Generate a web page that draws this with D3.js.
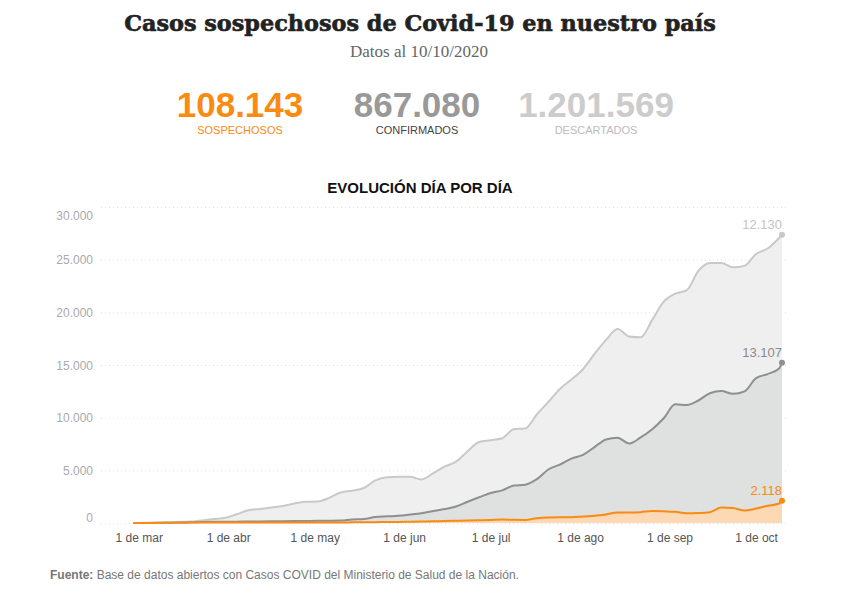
<!DOCTYPE html>
<html>
<head>
<meta charset="utf-8">
<script src="https://cdn.jsdelivr.net/npm/d3@7"></script>
<style>
  body { margin: 0; background: #fff; }
  svg { display: block; font-family: "Liberation Sans", Arial, sans-serif; }
</style>
</head>
<body>
<svg id="chart" width="843" height="589"></svg>
<script>
// valores (promedio diario por fecha)
const dates = ["2020-02-28","2020-03-03","2020-03-07","2020-03-11","2020-03-15","2020-03-19","2020-03-23","2020-03-27","2020-03-31",
  "2020-04-04","2020-04-08","2020-04-12","2020-04-16","2020-04-20","2020-04-24","2020-04-28",
  "2020-05-02","2020-05-06","2020-05-10","2020-05-14","2020-05-18","2020-05-22","2020-05-26","2020-05-30",
  "2020-06-03","2020-06-07","2020-06-11","2020-06-15","2020-06-19","2020-06-23","2020-06-27",
  "2020-07-01","2020-07-05","2020-07-09","2020-07-13","2020-07-17","2020-07-21","2020-07-25","2020-07-29",
  "2020-08-02","2020-08-06","2020-08-10","2020-08-14","2020-08-18","2020-08-22","2020-08-26","2020-08-30",
  "2020-09-03","2020-09-07","2020-09-11","2020-09-15","2020-09-19","2020-09-23","2020-09-27",
  "2020-10-01","2020-10-05","2020-10-09","2020-10-10"];

const sospechosos = [0,5,10,20,30,40,40,40,40,
  40,40,40,40,40,40,40,
  50,50,50,60,70,80,100,100,
  120,140,160,190,210,230,260,
  290,330,300,290,450,520,540,540,
  620,680,810,1000,990,1030,1140,1110,
  1060,930,950,1030,1460,1420,1190,
  1370,1630,1850,2118];

const confirmados = [0,2,5,10,10,30,60,70,80,
  90,100,110,120,130,140,150,
  160,170,190,280,310,480,530,590,
  680,790,980,1130,1350,1790,2190,
  2560,2770,3250,3350,3710,4560,5000,5570,
  5840,6530,7120,7090,6560,7090,7760,8830,
  10210,10270,10680,11290,11070,10840,11300,
  12380,12510,12820,13107];

const descartados = [0,10,20,40,60,70,140,260,380,
  700,1070,1180,1310,1440,1680,1820,
  1830,2160,2660,2720,2940,3480,3720,3700,
  3590,3210,3560,4030,4260,4790,5240,
  5000,4950,5350,5340,6160,6410,7180,7520,
  8140,8840,9450,10330,10160,9510,10380,11080,
  10500,10900,12300,12370,12150,12010,11920,
  11790,11920,12390,12130];

const seriesKeys = ["sospechosos", "confirmados", "descartados"];
const totals = [108143, 867080, 1201569];
const totalLabels = ["SOSPECHOSOS", "CONFIRMADOS", "DESCARTADOS"];
const yTicks = [0, 5000, 10000, 15000, 20000, 25000, 30000];
const monthStarts = ["2020-03-01","2020-04-01","2020-05-01","2020-06-01","2020-07-01","2020-08-01","2020-09-01","2020-10-01"];

const lineColor = { sospechosos: "#f98a12", confirmados: "#8f8f8f", descartados: "#c9c9c9" };
const fillColor = { sospechosos: "#fdd8b4", confirmados: "#dfe0e0", descartados: "#efefef" };
const labelColor = { sospechosos: "#f98a12", confirmados: "#8a8a8a", descartados: "#c4c4c4" };

const es = d3.formatLocale({ decimal: ",", thousands: ".", grouping: [3], currency: ["$", ""] });
const fmt = es.format(",d");
const esTime = d3.timeFormatLocale({
  dateTime: "%x, %X", date: "%d/%m/%Y", time: "%-H:%M:%S", periods: ["AM", "PM"],
  days: ["domingo","lunes","martes","miércoles","jueves","viernes","sábado"],
  shortDays: ["dom","lun","mar","mié","jue","vie","sáb"],
  months: ["enero","febrero","marzo","abril","mayo","junio","julio","agosto","septiembre","octubre","noviembre","diciembre"],
  shortMonths: ["ene","feb","mar","abr","may","jun","jul","ago","sep","oct","nov","dic"]
});
const parse = d3.timeParse("%Y-%m-%d");

const rows = dates.map((d, i) => ({
  date: parse(d),
  sospechosos: sospechosos[i],
  confirmados: confirmados[i],
  descartados: descartados[i]
}));

const svg = d3.select("#chart");

// titulo
const title = svg.append("text")
  .attr("x", 420).attr("y", 31)
  .attr("text-anchor", "middle")
  .style("font-family", "'DejaVu Serif', serif")
  .style("font-weight", "bold")
  .style("font-size", "26px")
  .attr("fill", "#222")
  .attr("stroke", "#222")
  .attr("stroke-width", 0.6)
  .text("Casos sospechosos de Covid-19 en nuestro país");
const tw = title.node().getComputedTextLength();
title.style("font-size", (26 * 592 / tw) + "px");

svg.append("text")
  .attr("x", 419).attr("y", 57)
  .attr("text-anchor", "middle")
  .style("font-family", "'Liberation Serif', serif")
  .style("font-size", "17px")
  .attr("fill", "#666")
  .text("Datos al 10/10/2020");

// totales
const colX = [240, 417, 596];
totals.forEach((t, i) => {
  svg.append("text")
    .attr("x", colX[i]).attr("y", 116.5)
    .attr("text-anchor", "middle")
    .style("font-size", "35px").style("font-weight", "bold")
    .attr("fill", i === 0 ? "#f98a12" : i === 1 ? "#999" : "#cccccc")
    .text(fmt(t));
  svg.append("text")
    .attr("x", colX[i]).attr("y", 133.5)
    .attr("text-anchor", "middle")
    .style("font-size", "11px")
    .attr("fill", i === 0 ? "#f98a12" : i === 1 ? "#444" : "#bbbbbb")
    .text(totalLabels[i]);
});

svg.append("text")
  .attr("x", 420).attr("y", 193)
  .attr("text-anchor", "middle")
  .style("font-size", "15px").style("font-weight", "bold")
  .attr("fill", "#111")
  .text("EVOLUCIÓN DÍA POR DÍA");

// escalas
const x = d3.scaleTime().domain(d3.extent(rows, d => d.date)).range([133, 782]);
const y = d3.scaleLinear().domain([0, 30000]).range([523, 207]);
const gridLeft = 101, gridRight = 788;

const yAxis = svg.append("g")
  .attr("transform", `translate(${gridLeft},0)`)
  .call(d3.axisLeft(y).tickValues(yTicks).tickFormat(fmt)
    .tickSizeInner(-(gridRight - gridLeft)).tickSizeOuter(0).tickPadding(8));
yAxis.select(".domain").remove();
yAxis.selectAll(".tick line").attr("stroke", "#e0e0e0").attr("stroke-dasharray", "1,3");
yAxis.selectAll(".tick text")
  .attr("fill", "#aaa").style("font-size", "12px")
  .style("font-family", "'Liberation Sans', Arial, sans-serif")
  .attr("dy", d => d === 30000 ? "1.0em" : d === 0 ? "-0.1em" : "0.35em");

const xAxis = svg.append("g")
  .attr("transform", `translate(0,${y(0)})`)
  .call(d3.axisBottom(x).tickValues(monthStarts.map(parse))
    .tickFormat(esTime.format("%-d de %b")).tickSize(0).tickPadding(10));
xAxis.select(".domain").remove();
xAxis.selectAll(".tick text")
  .attr("fill", "#555").style("font-size", "12px")
  .style("font-family", "'Liberation Sans', Arial, sans-serif");

// areas apiladas
const stack = d3.stack().keys(seriesKeys);
const layers = stack(rows);

const area = d3.area()
  .curve(d3.curveMonotoneX)
  .x(d => x(d.data.date))
  .y0(d => y(d[0]))
  .y1(d => y(d[1]));
const line = d3.line()
  .curve(d3.curveMonotoneX)
  .x(d => x(d.data.date))
  .y(d => y(d[1]));

svg.append("g").selectAll("path")
  .data(layers.slice().reverse())
  .join("path")
  .attr("d", area)
  .attr("fill", d => fillColor[d.key]);

svg.append("g").selectAll("path")
  .data(layers.slice().reverse())
  .join("path")
  .attr("d", line)
  .attr("fill", "none")
  .attr("stroke", d => lineColor[d.key])
  .attr("stroke-width", 2)
  .attr("stroke-linejoin", "round");

// ultimo valor
layers.forEach(layer => {
  const last = layer[layer.length - 1];
  const cx = x(last.data.date), cy = y(last[1]);
  svg.append("circle")
    .attr("cx", cx).attr("cy", cy).attr("r", 3)
    .attr("fill", lineColor[layer.key]);
  svg.append("text")
    .attr("x", cx).attr("y", cy - 6)
    .attr("text-anchor", "end")
    .style("font-size", "13px")
    .attr("fill", labelColor[layer.key])
    .text(fmt(last.data[layer.key]));
});

// fuente
const src = svg.append("text")
  .attr("x", 50).attr("y", 579)
  .style("font-size", "12px")
  .attr("fill", "#777");
src.append("tspan").style("font-weight", "bold").text("Fuente:");
src.append("tspan").text(" Base de datos abiertos con Casos COVID del Ministerio de Salud de la Nación.");
</script>
</body>
</html>
